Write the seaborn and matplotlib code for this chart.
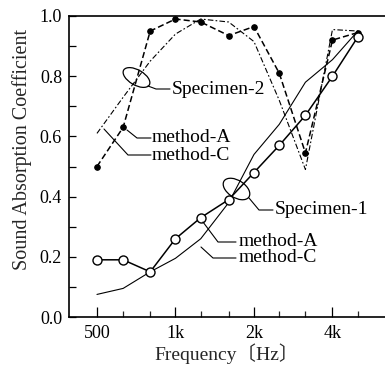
import numpy as np
import pandas as pd
import matplotlib
matplotlib.use("Agg")
import matplotlib.pyplot as plt
import seaborn as sns
from matplotlib.patches import Ellipse
from matplotlib.ticker import NullFormatter

# ---- data ----
freqs = [500, 630, 800, 1000, 1250, 1600, 2000, 2500, 3150, 4000, 5000]
spec1_methodA = [0.19, 0.19, 0.15, 0.26, 0.33, 0.39, 0.48, 0.57, 0.67, 0.80, 0.93]
spec1_methodC = [0.075, 0.095, 0.15, 0.195, 0.26, 0.38, 0.54, 0.64, 0.78, 0.855, 0.95]
spec2_methodA = [0.50, 0.63, 0.95, 0.99, 0.98, 0.935, 0.965, 0.81, 0.545, 0.92, 0.945]
spec2_methodC = [0.61, 0.73, 0.85, 0.94, 0.99, 0.98, 0.915, 0.72, 0.49, 0.955, 0.95]
xtick_vals = [500, 1000, 2000, 4000]
xtick_labels = ["500", "1k", "2k", "4k"]
xminor_vals = [630, 800, 1250, 1600, 2500, 3150, 5000]

sns.set_style("ticks")
plt.rcParams['font.family'] = ['Liberation Serif', 'Noto Sans CJK JP', 'DejaVu Serif']
plt.rcParams['font.size'] = 13

W, H = 385, 365
fig = plt.figure(figsize=(W / 100, H / 100), dpi=100)
L, T, R, B = 69, 16, 385, 317
ax = fig.add_axes([L / W, 1 - B / H, (R - L) / W, (B - T) / H])

df = pd.DataFrame({"f": freqs, "s1A": spec1_methodA, "s1C": spec1_methodC,
                   "s2A": spec2_methodA, "s2C": spec2_methodC})

sns.lineplot(data=df, x="f", y="s2C", ax=ax, color="black", lw=0.8,
             linestyle=(0, (5, 2, 1.5, 2)))
sns.lineplot(data=df, x="f", y="s2A", ax=ax, color="black", lw=1.1,
             linestyle=(0, (4, 2)), marker="o", markersize=4,
             markerfacecolor="black", markeredgecolor="black")
sns.lineplot(data=df, x="f", y="s1C", ax=ax, color="black", lw=0.8)
sns.lineplot(data=df, x="f", y="s1A", ax=ax, color="black", lw=1.1,
             marker="o", markersize=6.5, markerfacecolor="white",
             markeredgecolor="black", markeredgewidth=1.0)

ax.set_xscale("log")
ax.set_xlim(390.6, 6360)
ax.set_ylim(0, 1.0)
ax.set_xticks(xtick_vals)
ax.set_xticklabels(xtick_labels)
ax.set_xticks(xminor_vals, minor=True)
ax.xaxis.set_minor_formatter(NullFormatter())
yt = np.round(np.arange(0, 1.01, 0.1), 1)
ax.set_yticks(yt)
ax.set_yticklabels([f"{v:.1f}" if round(v * 10) % 2 == 0 else "" for v in yt])
ax.tick_params(axis="both", which="major", direction="in", color="black",
               labelsize=13, labelcolor="black")
ax.tick_params(axis="x", which="major", length=7, width=0.9, pad=6)
ax.tick_params(axis="x", which="minor", direction="in", length=4, width=0.9)
ax.tick_params(axis="y", which="major", length=5, width=0.9, pad=5)
ax.tick_params(axis="y", which="minor", length=0)
for s in ["left", "bottom", "top"]:
    ax.spines[s].set_visible(True)
    ax.spines[s].set_color("black")
    ax.spines[s].set_linewidth(1.2)
ax.spines["right"].set_visible(False)

ax.set_xlabel("Frequency〔Hz〕", fontsize=14)
ax.xaxis.set_label_coords((226.5 - L) / (R - L), (B - 343) / (B - T))
ax.set_ylabel("Sound Absorption Coefficient", fontsize=14.5)
ax.yaxis.set_label_coords((32 - L) / (R - L), (B - 150) / (B - T))
ax.set_facecolor("white")


def px(x, y):
    return ((x - L) / (R - L), (B - y) / (B - T))


def leader(points):
    xs, ys = zip(*[px(*p) for p in points])
    ax.plot(xs, ys, color="black", lw=0.8, transform=ax.transAxes, clip_on=False)


def label(x, y, s):
    ax.text(*px(x, y), s, transform=ax.transAxes, ha="left", va="center",
            fontsize=14, color="black")


def ell(cx, cy, w, h, ang):
    c = px(cx, cy)
    e = Ellipse(c, w / (R - L), h / (B - T), angle=ang, transform=ax.transAxes,
                fill=False, edgecolor="black", lw=0.9)
    ax.add_patch(e)


# Specimen-2 annotations
ell(136.5, 77.5, 30, 15, -32)
leader([(148, 86), (156, 89), (170, 89)])
label(172, 89, "Specimen-2")
leader([(127, 130), (137, 138), (151, 138)])
label(152, 138, "method-A")
leader([(104, 129), (128, 155), (151, 155)])
label(152, 155, "method-C")

# Specimen-1 annotations
ell(236.5, 189, 30, 17, -35)
leader([(249, 198), (259, 210), (273, 210)])
label(275, 210, "Specimen-1")
leader([(203, 222), (218, 242), (236, 242)])
label(239, 242, "method-A")
leader([(201, 247), (213, 258), (236, 258)])
label(239, 258, "method-C")

fig.savefig("out.png", dpi=100, facecolor="white")
